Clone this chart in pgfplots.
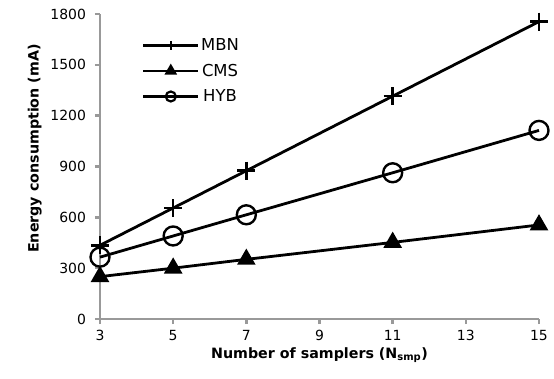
\documentclass[border=0pt]{standalone}
\usepackage{fontspec}
\setmainfont{DejaVu Sans}
\usepackage{pgfplots}
\pgfplotsset{compat=1.18}
\begin{document}
\begin{tikzpicture}
\begin{axis}[
  scale only axis, width=439bp, height=305bp,
  xmin=3, xmax=15, ymin=0, ymax=1800,
  xtick={3,5,7,9,11,13,15}, ytick={0,300,600,900,1200,1500,1800},
  xticklabels={3,5,7,9,11,13,15},
  yticklabels={0,300,600,900,1200,1500,1800},
  axis x line*=bottom, axis y line*=left,
  axis line style={draw=black!40, line width=3pt, -},
  tick style={draw=black!40, line width=2.5pt},
  tick align=outside, major tick length=5bp,
  tick label style={font=\fontsize{14}{16}\selectfont},
  xticklabel style={yshift=-3bp},
  yticklabel style={xshift=-5.5bp},
  label style={font=\bfseries\fontsize{14.3}{17}\selectfont},
  xlabel={Number of samplers (N\textsubscript{smp})},
  ylabel={Energy consumption (mA)},
  xlabel style={yshift=0bp},
  ylabel style={xshift=18bp, yshift=2bp},
  clip=false,
  legend style={at={(axis cs:4.14,1665)}, anchor=north west, draw=none, fill=none,
    font=\fontsize{16.5}{19}\selectfont, row sep=9bp, inner sep=0pt,
    nodes={inner sep=1.5bp}},
  legend image code/.code={\draw[#1, line width=2.8pt] (0cm,0cm) -- (1.94cm,0cm); \draw[#1, line width=2.8pt, mark repeat=2,mark phase=2] plot coordinates {(0cm,0cm) (0.97cm,0cm) (1.94cm,0cm)};},
]
\addplot[black, line width=2.8pt, mark=+, mark size=9bp, mark options={line width=2.6pt},
  legend image post style={mark size=4.5bp}]
  coordinates {(3,435) (5,655) (7,875) (11,1315) (15,1755)};
\addlegendentry{MBN}
\addplot[black, line width=2.8pt, mark=triangle*, mark size=8bp,
  legend image post style={mark size=4.5bp}]
  coordinates {(3,250) (5,300) (7,352) (11,452) (15,555)};
\addlegendentry{CMS}
\addplot[black, line width=2.8pt, mark=o, mark size=9.5bp, mark options={line width=2.4pt, fill=white},
  legend image post style={mark size=5bp, mark options={line width=2.2pt, fill=none}}]
  coordinates {(3,365) (5,490) (7,615) (11,863) (15,1113)};
\addlegendentry{HYB}
\end{axis}
\pgfresetboundingbox
\path ([xshift=-100bp,yshift=-60bp]current axis.south west) rectangle ([xshift=15bp,yshift=14bp]current axis.north east);
\end{tikzpicture}
\end{document}
